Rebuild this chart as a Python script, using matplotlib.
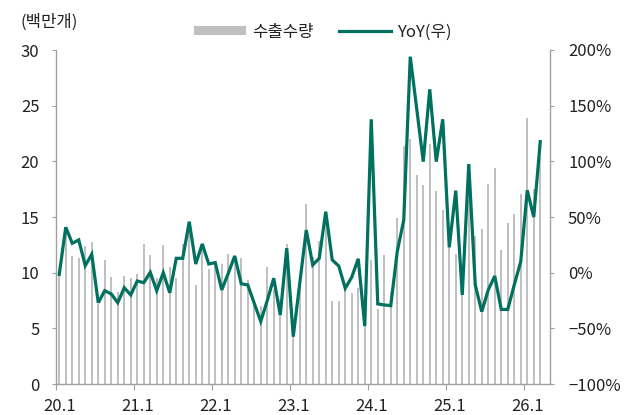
import matplotlib
matplotlib.use("Agg")
import matplotlib.pyplot as plt
from matplotlib.patches import Patch
from matplotlib.lines import Line2D
from matplotlib.ticker import FixedLocator, FuncFormatter
import numpy as np

plt.rcParams['font.family'] = ['Noto Sans CJK KR', 'DejaVu Sans']

# Monthly export volume (million units), 2020.1 - 2026.3
volume = [
    9.9, 13.8, 11.5, 11.3, 12.4, 12.75, 7.2, 11.1, 9.6, 8.3, 9.7, 9.55,      # 2020
    9.9, 12.6, 11.6, 9.5, 12.5, 10.5, 9.5, 12.6, 14.0, 8.9, 12.2, 10.3,      # 2021
    10.8, 10.8, 11.7, 10.9, 11.3, 9.35, 7.0, 7.0, 10.5, 8.5, 7.6, 12.6,      # 2022
    4.7, 9.5, 16.2, 11.4, 12.8, 14.5, 7.45, 7.45, 8.7, 8.15, 8.6, 6.6,       # 2023
    11.1, 6.7, 11.6, 8.3, 14.9, 21.4, 22.0, 18.8, 17.9, 21.6, 17.3, 15.6,    # 2024
    13.6, 11.7, 9.3, 16.5, 13.3, 13.9, 18.0, 19.4, 12.0, 14.5, 15.3, 17.1,   # 2025
    23.9, 17.5, 20.3,                                                       # 2026
]
# YoY growth (%), right axis
yoy = [
    -1.5, 40.8, 26.4, 29.4, 6.3, 16.5, -27, -16.2, -19.1, -27, -13.5, -20,
    -7.5, -9, 0.3, -16.2, 0, -18, 12.9, 12.9, 45.8, 7.8, 25.8, 7.8,
    9.0, -15.5, -0.6, 15, -10, -11, -27.5, -43.8, -25.1, -5, -38, 22,
    -57.5, -9.5, 38.3, 6.9, 12.9, 54.8, 11.4, 6, -14, -4, 12.5, -47.9,
    137.8, -28.1, -29, -29.6, 18.9, 47.3, 194, 147, 99.7, 164.7, 99.7, 137.8,
    22.8, 73.7, -20, 97.6, -11, -35, -15.5, -3, -33, -33, -11, 10,
    74, 50, 117.7,
]
year_labels = ['20.1', '21.1', '22.1', '23.1', '24.1', '25.1', '26.1']
n_slots = 76

bar_color = '#C0C0C0'
line_color = '#00705F'
spine_color = '#A0A0A0'
text_color = '#222222'

fig = plt.figure(figsize=(6.35, 4.15), dpi=100)
ax = fig.add_axes([56/635, 31/415, (550-56)/635, (384-50)/415])
ax2 = ax.twinx()

x = np.arange(len(volume))
ax.bar(x, volume, width=0.3, color=bar_color, zorder=2)
ax2.plot(np.arange(len(yoy)), yoy, color=line_color, lw=2.3,
         solid_joinstyle='miter', zorder=3)

ax.set_xlim(-0.5, n_slots - 0.5)
ax.set_ylim(0, 30)
ax2.set_ylim(-100, 200)
ax.set_yticks(np.arange(0, 31, 5))
ax2.set_yticks(np.arange(-100, 201, 50))
ax2.yaxis.set_major_formatter(FuncFormatter(
    lambda v, p: f"{int(v)}%".replace('-', '\u2212')))

# x: tick marks at year boundaries, labels at January
ax.xaxis.set_major_locator(FixedLocator([-0.5 + 12*k for k in range(7)]))
ax.xaxis.set_major_formatter(FuncFormatter(lambda v, p: ''))
ax.xaxis.set_minor_locator(FixedLocator([12*k for k in range(7)]))
ax.set_xticklabels(year_labels, minor=True)
ax.tick_params(axis='x', which='minor', length=0, pad=10,
               labelsize=12, labelcolor=text_color)
ax.tick_params(axis='x', which='major', length=4, color=spine_color,
               direction='out')

ax.tick_params(axis='y', length=3, color=spine_color, labelsize=12,
               labelcolor=text_color, pad=9)
ax2.tick_params(axis='y', length=3, color=spine_color, labelsize=12,
                labelcolor=text_color, pad=10)

for a in (ax, ax2):
    a.spines['top'].set_visible(False)
    for s in ('left', 'right', 'bottom'):
        a.spines[s].set_color(spine_color)
        a.spines[s].set_linewidth(1.0)
    a.patch.set_visible(False)
ax2.spines['left'].set_visible(False)
ax2.spines['bottom'].set_visible(False)
ax.spines['right'].set_visible(False)

fig.text(20/635, 1 - 22/415, '(백만개)', fontsize=12, color=text_color,
         ha='left', va='center')

handles = [Patch(facecolor=bar_color, edgecolor='none'),
           Line2D([0], [0], color=line_color, lw=2.3)]
fig.legend(handles, ['수출수량', 'YoY(우)'], loc='center',
           bbox_to_anchor=(323/635, 1 - 32/415), ncol=2, frameon=False,
           fontsize=12, handlelength=3.1, handleheight=0.5,
           handletextpad=0.4, columnspacing=1.5, labelcolor=text_color,
           borderaxespad=0, borderpad=0)

fig.savefig('out.png', dpi=100)
